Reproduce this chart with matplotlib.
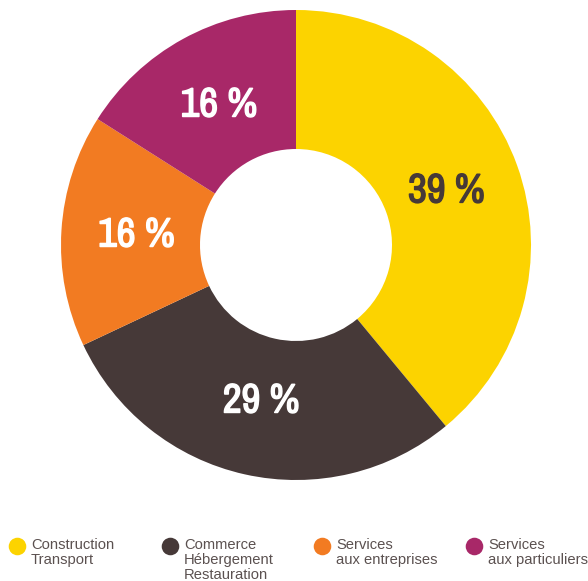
import matplotlib.pyplot as plt
import matplotlib.patheffects as pe
from matplotlib import font_manager

# parts du secteur
secteurs = ["Construction\nTransport", "Commerce\nHébergement\nRestauration",
            "Services\naux entreprises", "Services\naux particuliers"]
parts = [39, 29, 16, 16]
couleurs = ["#FCD300", "#463938", "#F27B22", "#A82868"]
couleurs_texte = ["#463938", "white", "white", "white"]

# police étroite si dispo
noms = sorted({f.name for f in font_manager.fontManager.ttflist})
etroites = [n for n in noms if "Narrow" in n or "Condensed" in n]
if etroites:
    police_chiffres, taille, trait = etroites[0], 29.5, 1.1
else:
    police_chiffres, taille, trait = "Roboto", 26, 0

fig = plt.figure(figsize=(5.88, 5.81), dpi=100)
ax = fig.add_axes([0, 0, 1, 1])

wedges, textes, pcts = ax.pie(
    parts, colors=couleurs, startangle=90, counterclock=False,
    center=(296, 336), radius=235, frame=True,
    wedgeprops=dict(width=139, linewidth=0),
    autopct=lambda p: f"{p:.0f} %", pctdistance=0.68,
)
ax.set_xlim(0, 588)
ax.set_ylim(0, 581)
ax.set_aspect("equal")
ax.axis("off")
for t, c in zip(pcts, couleurs_texte):
    t.set_color(c)
    t.set_fontsize(taille)
    t.set_fontweight("bold")
    t.set_family(police_chiffres)
    t.set_stretch("condensed")
    if trait:
        t.set_path_effects([pe.withStroke(linewidth=trait, foreground=c)])

# légende
xs = [17, 170, 322, 474]
for x, nom, c in zip(xs, secteurs, couleurs):
    ax.scatter([x], [581 - 546], s=160, color=c, linewidths=0, clip_on=False)
    ax.text(x + 14, 581 - 538, nom, fontsize=10.6, color="#5b5150",
            family="Liberation Sans", va="top", ha="left", linespacing=1.1)

fig.savefig("out.png", dpi=100)
